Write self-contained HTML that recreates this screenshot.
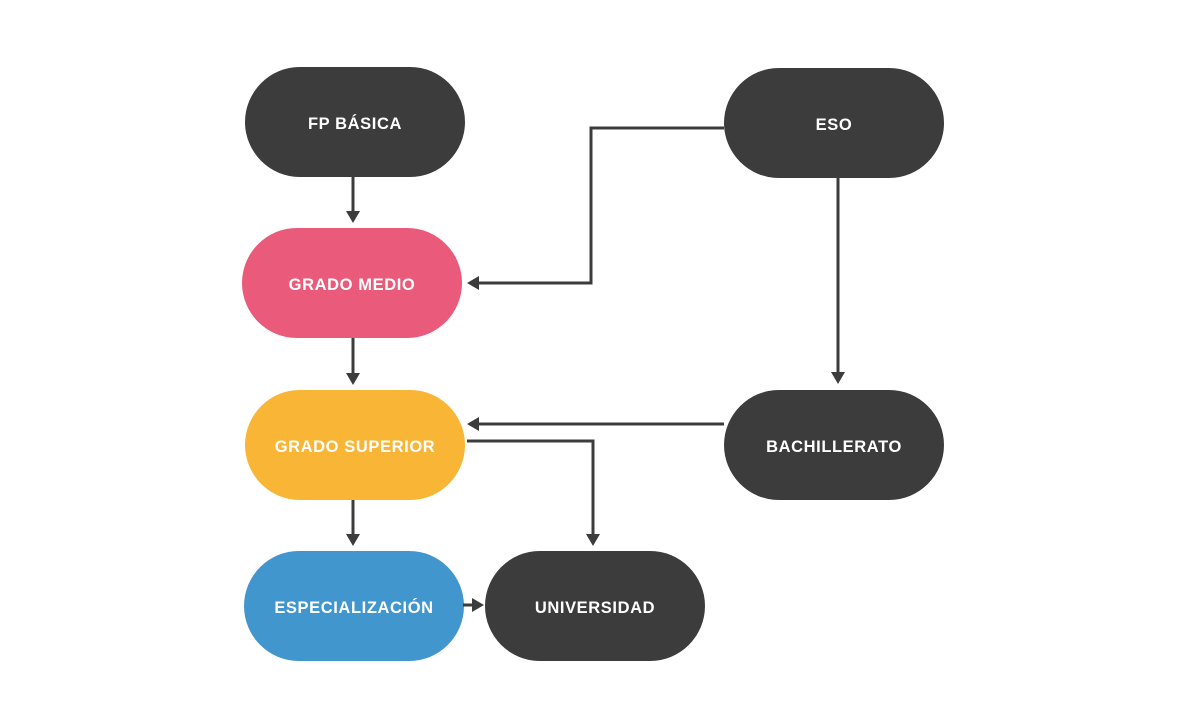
<!DOCTYPE html>
<html><head><style>
body{margin:0;width:1180px;height:726px;background:#fff;position:relative;overflow:hidden;font-family:"Liberation Sans",sans-serif}
.n{position:absolute;width:220px;height:110px;box-sizing:border-box;padding-top:5px;border-radius:55px;color:#fff;font-weight:bold;font-size:16.5px;display:flex;align-items:center;justify-content:center;letter-spacing:0.6px}
svg{position:absolute;left:0;top:0}
</style></head><body>
<div class="n" style="left:245px;top:67px;background:#3c3c3c">FP BÁSICA</div>
<div class="n" style="left:242px;top:228px;background:#e95a7b">GRADO MEDIO</div>
<div class="n" style="left:245px;top:390px;background:#f9b535">GRADO SUPERIOR</div>
<div class="n" style="left:244px;top:551px;background:#4196cd">ESPECIALIZACIÓN</div>
<div class="n" style="left:485px;top:551px;background:#3c3c3c">UNIVERSIDAD</div>
<div class="n" style="left:724px;top:68px;background:#3c3c3c">ESO</div>
<div class="n" style="left:724px;top:390px;background:#3c3c3c">BACHILLERATO</div>
<svg width="1180" height="726">
<g stroke="#3c3c3c" stroke-width="3" fill="none">
<path d="M353 177V212"/>
<path d="M353 338V374"/>
<path d="M353 500V535"/>
<path d="M724 128H591V283H478"/>
<path d="M838 178V373"/>
<path d="M724 424H478"/>
<path d="M467 441H593V535"/>
<path d="M463 605H473"/>
</g>
<g fill="#3c3c3c">
<path d="M346 211H360L353 223Z"/>
<path d="M346 373H360L353 385Z"/>
<path d="M346 534H360L353 546Z"/>
<path d="M479 276V290L467 283Z"/>
<path d="M831 372H845L838 384Z"/>
<path d="M479 417V431L467 424Z"/>
<path d="M586 534H600L593 546Z"/>
<path d="M472 598V612L484 605Z"/>
</g>
</svg>
</body></html>
